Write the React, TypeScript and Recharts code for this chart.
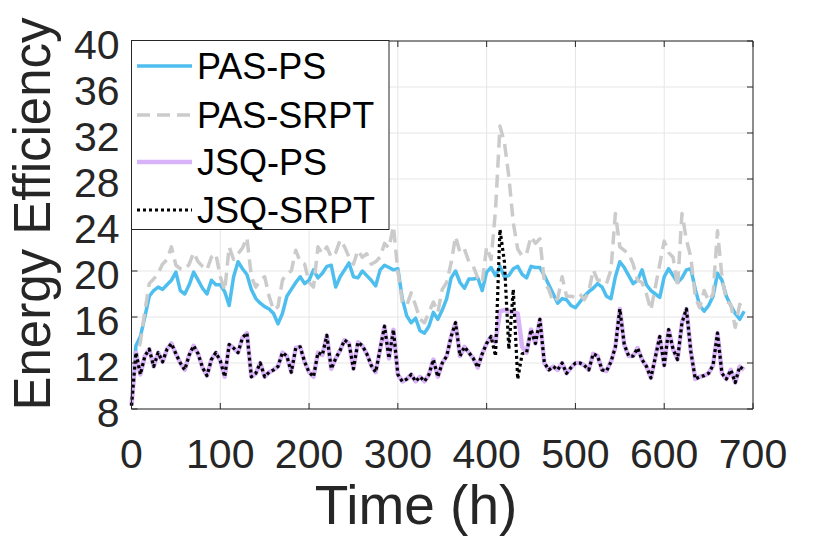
import React from "react";
import { CartesianGrid, Legend, Line, LineChart, ReferenceLine, XAxis, YAxis } from "recharts";

const hours = [
  0, 5, 10, 15, 20, 25, 30, 35, 40, 45,
  50, 55, 60, 65, 70, 75, 80, 85, 90, 95,
  100, 105, 110, 115, 120, 125, 130, 135, 140, 145,
  150, 155, 160, 165, 170, 175, 180, 185, 190, 195,
  200, 205, 210, 215, 220, 225, 230, 235, 240, 245,
  250, 255, 260, 265, 270, 275, 280, 285, 290, 295,
  300, 305, 310, 315, 320, 325, 330, 335, 340, 345,
  350, 355, 360, 365, 370, 375, 380, 385, 390, 395,
  400, 405, 410, 415, 420, 425, 430, 435, 440, 445,
  450, 455, 460, 465, 470, 475, 480, 485, 490, 495,
  500, 505, 510, 515, 520, 525, 530, 535, 540, 545,
  550, 555, 560, 565, 570, 575, 580, 585, 590, 595,
  600, 605, 610, 615, 620, 625, 630, 635, 640, 645,
  650, 655, 660, 665, 670, 675, 680, 685, 690,
];

const pasPs = [
  8.3, 13.5, 14.3, 16.0, 17.8, 18.3, 18.6, 18.4, 18.8, 19.2,
  19.9, 18.3, 18.0, 18.8, 19.9, 19.2, 18.5, 18.0, 19.2, 18.8,
  18.8, 18.2, 17.0, 19.5, 20.8, 20.2, 19.7, 18.4, 17.6, 17.2,
  16.9, 16.7, 16.3, 15.4, 16.3, 17.8, 18.4, 19.0, 19.5, 18.9,
  19.2, 20.1, 19.4, 19.8, 20.4, 20.5, 18.6, 19.5, 20.1, 20.7,
  19.5, 19.4, 20.0, 19.6, 19.2, 18.7, 20.1, 20.5, 20.3, 20.1,
  20.2, 17.6, 16.1, 15.5, 15.9, 14.8, 14.6, 15.2, 16.4, 15.8,
  16.6, 17.6, 19.4, 20.0, 19.0, 18.5, 19.3, 19.3, 19.4, 18.3,
  19.9, 20.3, 19.6, 20.4, 19.5, 19.6, 20.2, 20.4, 19.7, 19.4,
  20.4, 20.3, 20.3, 19.6, 18.8, 18.0, 17.2, 17.6, 17.5, 17.0,
  16.8, 17.3, 17.8, 18.2, 18.5, 18.9, 18.6, 17.8, 17.6, 19.5,
  20.8, 20.3, 19.6, 18.9, 19.2, 20.1, 18.8, 18.3, 18.0, 17.7,
  19.5, 20.2, 19.6, 19.0, 19.4, 20.1, 20.2, 18.4, 17.0, 16.5,
  17.0, 17.8, 19.8, 19.2, 17.8, 17.0, 16.3, 15.8, 16.5,
];

const pasSrpt = [
  8.3, 12.5, 13.8, 16.5, 18.9, 19.3, 19.8, 20.6, 21.0, 22.1,
  20.5, 20.2, 20.1, 20.6, 21.6, 20.8, 20.4, 20.1, 21.2, 21.5,
  19.5, 18.3, 22.1, 21.0, 21.5, 22.0, 22.9, 19.5, 18.6, 19.2,
  19.5, 17.8, 16.6, 16.9, 19.2, 19.8, 20.0, 21.8, 20.8, 20.6,
  19.0, 18.6, 22.1, 21.5, 22.1, 21.2, 21.6, 22.7, 22.1, 21.2,
  20.6, 21.8, 21.2, 21.5, 20.6, 20.8, 21.2, 22.4, 22.0, 23.9,
  20.0, 17.3, 17.0, 18.1, 17.0, 15.8, 15.5, 16.4, 17.3, 16.4,
  18.4, 19.0, 20.7, 23.0, 21.6, 21.9, 20.8, 20.4, 19.4, 19.0,
  22.1, 21.0, 25.3, 32.6, 31.2, 28.2, 24.2, 21.9, 21.3, 21.5,
  23.0, 22.4, 22.8, 19.0, 18.4, 17.3, 17.6, 19.5, 17.8, 17.8,
  17.7, 18.0, 17.5, 18.2, 20.1, 19.2, 19.2, 18.9, 20.1, 25.0,
  22.1, 21.8, 21.5, 20.6, 19.2, 19.0, 18.0, 16.6, 18.6, 20.6,
  22.6, 21.6, 21.2, 18.6, 25.0, 22.7, 21.2, 17.7, 16.8, 18.3,
  17.4, 18.0, 23.5, 19.5, 17.4, 17.1, 15.1, 17.1, 16.8,
];

const jsqPs = [
  8.3, 12.9, 11.0, 12.6, 13.2, 11.7, 12.9, 12.1, 13.2, 13.7,
  12.8, 12.0, 11.4, 12.7, 13.5, 12.8, 11.6, 10.9, 12.3, 12.9,
  12.2, 10.8, 13.6, 13.3, 12.9, 14.2, 14.6, 10.8, 11.1, 12.0,
  10.8, 11.2, 11.4, 11.7, 12.9, 12.6, 11.2, 13.3, 13.4, 12.1,
  11.2, 10.8, 12.9, 12.7, 14.4, 11.5, 12.4, 13.1, 14.0, 13.7,
  11.5, 13.8, 13.5, 12.8, 11.8, 11.2, 13.2, 15.2, 12.4, 14.9,
  11.0, 10.4, 10.6, 11.0, 10.4, 10.8, 10.4, 11.0, 12.3, 10.8,
  12.0, 12.6, 14.3, 15.5, 12.6, 13.4, 12.9, 12.4, 11.6, 12.8,
  13.7, 14.3, 13.8, 16.5, 16.6, 16.5, 16.4, 16.3, 13.4, 12.9,
  14.9, 13.7, 15.8, 12.0, 11.4, 11.7, 11.4, 12.0, 11.1, 11.6,
  12.0, 12.0, 11.8, 11.4, 12.8, 12.6, 11.4, 11.3, 12.1, 13.4,
  16.7, 13.6, 12.6, 12.6, 13.3, 12.3, 11.7, 10.7, 12.5, 14.3,
  11.8, 14.9, 13.2, 12.3, 15.5, 16.7, 13.0, 10.6, 10.8, 10.9,
  11.1, 11.8, 14.6, 11.1, 10.6, 11.4, 10.3, 11.7, 11.4,
];

const jsqSrpt = [
  8.3, 12.9, 11.0, 12.6, 13.2, 11.7, 12.9, 12.1, 13.2, 13.7,
  12.8, 12.0, 11.4, 12.7, 13.5, 12.8, 11.6, 10.9, 12.3, 12.9,
  12.2, 10.8, 13.6, 13.3, 12.9, 14.2, 14.6, 10.8, 11.1, 12.0,
  10.8, 11.2, 11.4, 11.7, 12.9, 12.6, 11.2, 13.3, 13.4, 12.1,
  11.2, 10.8, 12.9, 12.7, 14.4, 11.5, 12.4, 13.1, 14.0, 13.7,
  11.5, 13.8, 13.5, 12.8, 11.8, 11.2, 13.2, 15.2, 12.4, 14.9,
  11.0, 10.4, 10.6, 11.0, 10.4, 10.8, 10.4, 11.0, 12.3, 10.8,
  12.0, 12.6, 14.3, 15.5, 12.6, 13.4, 12.9, 12.4, 11.6, 12.8,
  13.7, 14.3, 12.6, 23.6, 20.8, 13.2, 18.4, 10.6, 12.8, 12.9,
  14.9, 13.7, 15.8, 12.0, 11.4, 11.7, 11.4, 12.0, 11.1, 11.6,
  12.0, 12.0, 11.8, 11.4, 12.8, 12.6, 11.4, 11.3, 12.1, 13.4,
  16.7, 13.6, 12.6, 12.6, 13.3, 12.3, 11.7, 10.7, 12.5, 14.3,
  11.8, 14.9, 13.2, 12.3, 15.5, 16.7, 13.0, 10.6, 10.8, 10.9,
  11.1, 11.8, 14.6, 11.1, 10.6, 11.4, 10.3, 11.7, 11.4,
];

const xTicks = [0, 100, 200, 300, 400, 500, 600, 700];
const yTicks = [8, 12, 16, 20, 24, 28, 32, 36, 40];

const data = hours.map((h, i) => ({
  h,
  pasPs: pasPs[i],
  pasSrpt: pasSrpt[i],
  jsqPs: jsqPs[i],
  jsqSrpt: jsqSrpt[i],
}));

const series = [
  { key: "pasPs", name: "PAS-PS", color: "#4DBEEE", width: 3.5, dash: undefined },
  { key: "pasSrpt", name: "PAS-SRPT", color: "#CBCBCB", width: 3.5, dash: "13 7" },
  { key: "jsqPs", name: "JSQ-PS", color: "#D8B3F8", width: 4.5, dash: undefined },
  { key: "jsqSrpt", name: "JSQ-SRPT", color: "#000000", width: 3.2, dash: "3 3" },
];

const font = "'Liberation Sans', Arial, Helvetica, sans-serif";
const ink = "#262626";
const box = { left: 131.5, right: 753, top: 41, bottom: 409 };

function YTick({ x, y, payload }: any) {
  return (
    <g>
      <line x1={box.left} x2={box.left + 6} y1={y} y2={y} stroke={ink} />
      <line x1={box.right - 6} x2={box.right} y1={y} y2={y} stroke={ink} />
      <text x={x - 4} y={y + 18} textAnchor="end" fontSize={41} fontFamily={font} fill={ink}>{payload.value}</text>
    </g>
  );
}

function XTick({ x, y, payload }: any) {
  return (
    <g>
      <line x1={x} x2={x} y1={box.bottom} y2={box.bottom - 6} stroke={ink} />
      <line x1={x} x2={x} y1={box.top} y2={box.top + 6} stroke={ink} />
      <text x={x} y={468} textAnchor="middle" fontSize={41} fontFamily={font} fill={ink}>{payload.value}</text>
    </g>
  );
}

function XTitle() {
  return <text x={416} y={524} textAnchor="middle" fontSize={55} fontFamily={font} fill={ink}>Time (h)</text>;
}

function YTitle() {
  return <text x={0} y={0} transform="translate(50,214) rotate(-90)" textAnchor="middle" fontSize={51} fontFamily={font} fill={ink}>Energy Efficiency</text>;
}

function LegendBox() {
  const rows = [67, 116, 163, 211];
  return (
    <svg width={259} height={191} style={{ display: "block" }}>
      <rect x={0.5} y={0.5} width={257.5} height={189} fill="#ffffff" stroke={ink} strokeWidth={1} />
      {series.map((s, i) => (
        <g key={s.key}>
          <line x1={6} x2={61} y1={rows[i] - 41} y2={rows[i] - 41} stroke={s.color} strokeWidth={s.width} strokeDasharray={s.dash} />
          <text x={66} y={rows[i] - 41 + 13} fontSize={36} fontFamily={font} fill="#000000">{s.name}</text>
        </g>
      ))}
    </svg>
  );
}

export default function App() {
  return (
    <div style={{ position: "absolute", left: 0, top: 0, width: 830, height: 541, background: "#ffffff" }}>
      <LineChart width={830} height={541} data={data} margin={{ top: 41, right: 77, bottom: 0, left: 0 }}>
        <CartesianGrid stroke="#E6E6E6" strokeWidth={1} horizontalValues={yTicks} verticalValues={xTicks} />
        <XAxis dataKey="h" type="number" domain={[0, 700]} ticks={xTicks} height={132} tick={<XTick />} tickLine={false} axisLine={{ stroke: ink }} label={<XTitle />} interval={0} />
        <YAxis type="number" domain={[8, 40]} ticks={yTicks} width={131.5} tick={<YTick />} tickLine={false} axisLine={{ stroke: ink }} label={<YTitle />} interval={0} allowDataOverflow />
        <ReferenceLine y={40} stroke={ink} strokeWidth={1} />
        <ReferenceLine x={700} stroke={ink} strokeWidth={1} />
        {series.map((s) => (
          <Line key={s.key} type="linear" dataKey={s.key} name={s.name} stroke={s.color} strokeWidth={s.width} strokeDasharray={s.dash} dot={false} activeDot={false} isAnimationActive={false} strokeLinejoin="round" />
        ))}
        <Legend layout="vertical" align="center" verticalAlign="middle" content={<LegendBox />} wrapperStyle={{ position: "absolute", left: 131, top: 40, width: 259, height: 191 }} />
      </LineChart>
    </div>
  );
}
